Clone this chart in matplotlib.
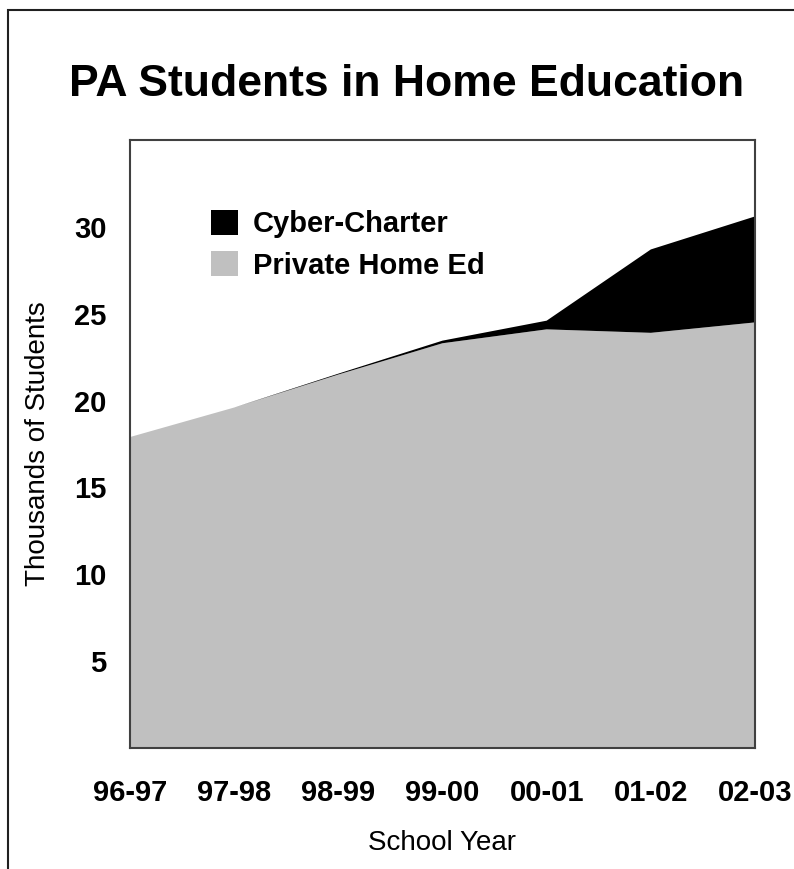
import matplotlib
matplotlib.use("Agg")
import matplotlib.pyplot as plt
from matplotlib.patches import Patch, Rectangle

# Data (thousands of students)
school_years = ["96-97", "97-98", "98-99", "99-00", "00-01", "01-02", "02-03"]
private_home_ed = [17.9, 19.6, 21.5, 23.3, 24.1, 23.9, 24.5]
cyber_charter = [0.0, 0.0, 0.05, 0.15, 0.5, 4.8, 6.1]
y_ticks = [5, 10, 15, 20, 25, 30]

GRAY = "#c0c0c0"
FONT = "Liberation Sans"

plt.rcParams["font.family"] = [FONT, "DejaVu Sans"]

fig = plt.figure(figsize=(7.94, 8.69), dpi=100)
ax = fig.add_axes([130 / 794, 1 - 748 / 869, 625 / 794, 608 / 869])

x = list(range(len(school_years)))
ax.stackplot(x, private_home_ed, cyber_charter, colors=[GRAY, "black"], linewidth=0)

ax.set_xlim(0, len(school_years) - 1)
ax.set_ylim(0, 35)
ax.set_xticks(x)
ax.set_xticklabels(school_years, fontsize=21, fontweight="bold")
ax.set_yticks(y_ticks)
ax.set_yticklabels([str(v) for v in y_ticks], fontsize=21, fontweight="bold")
ax.tick_params(axis="both", length=0)
ax.tick_params(axis="x", pad=22)
ax.tick_params(axis="y", pad=17)

for sp in ax.spines.values():
    sp.set_color("#404040")
    sp.set_linewidth(1.5)

ax.set_ylabel("Thousands of Students", fontsize=20)
ax.yaxis.label.set_va("center")
ax.yaxis.set_label_coords(-0.147, 0.5)
ax.set_xlabel("School Year", fontsize=20)
ax.xaxis.label.set_va("center")
ax.xaxis.set_label_coords(0.5, -0.156)

handles = [
    Patch(facecolor="black", edgecolor="none", label="Cyber-Charter"),
    Patch(facecolor=GRAY, edgecolor="none", label="Private Home Ed"),
]
ax.legend(
    handles=handles,
    loc="upper left",
    bbox_to_anchor=((196 - 130) / 625, (748 - 195) / 608),
    frameon=False,
    prop={"family": FONT, "weight": "bold", "size": 21},
    handlelength=0.95,
    handleheight=0.95,
    handletextpad=0.5,
    labelspacing=0.45,
    borderpad=0.0,
)

fig.text(
    407 / 794,
    1 - 96 / 869,
    "PA Students in Home Education",
    ha="center",
    va="baseline",
    fontsize=32,
    fontweight="bold",
)

# frame around the whole figure (right and bottom edges fall outside the image)
fig.patches.append(
    Rectangle(
        (8 / 794, -0.1),
        1.2,
        1.1 - 10 / 869,
        transform=fig.transFigure,
        fill=False,
        edgecolor="#202020",
        linewidth=1.5,
    )
)

fig.savefig("out.png", dpi=100)
